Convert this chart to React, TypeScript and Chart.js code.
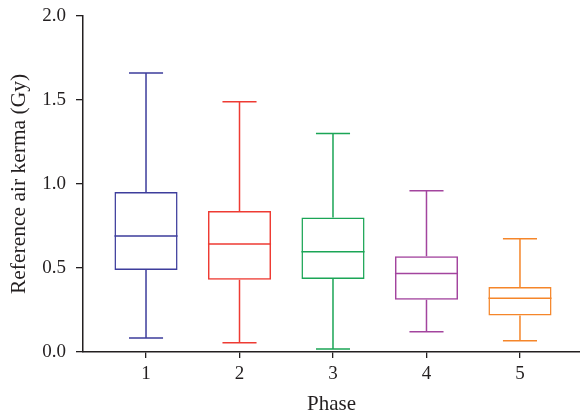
import React, { useEffect, useRef } from "react";
import { Chart, registerables } from "chart.js";

Chart.register(...registerables);

const phases = ["1", "2", "3", "4", "5"];
const whiskerLow = [0.083, 0.055, 0.018, 0.121, 0.067];
const q1 = [0.488, 0.43, 0.434, 0.311, 0.218];
const medians = [0.69, 0.643, 0.597, 0.468, 0.32];
const q3 = [0.952, 0.84, 0.8, 0.57, 0.387];
const whiskerHigh = [1.66, 1.49, 1.3, 0.96, 0.674];
const colors = ["#3d3d9c", "#ee3b33", "#1ba556", "#a3449e", "#f5862a"];
const yTicks = [0, 0.5, 1.0, 1.5, 2.0];

const FONT = "'Liberation Serif', 'Times New Roman', serif";
const INK = "#231f20";

const boxPlotPlugin = {
  id: "boxWhiskers",
  afterDatasetsDraw(chart: any) {
    const meta = chart.getDatasetMeta(0);
    const y = chart.scales.y;
    const ctx = chart.ctx;
    ctx.save();
    ctx.lineWidth = 1.5;
    meta.data.forEach((bar: any, i: number) => {
      const cx = bar.x;
      const half = bar.width / 2;
      const cap = half * 0.54;
      const px = (v: number) => y.getPixelForValue(v);
      ctx.strokeStyle = colors[i];
      ctx.beginPath();
      ctx.moveTo(cx, px(q3[i]));
      ctx.lineTo(cx, px(whiskerHigh[i]));
      ctx.moveTo(cx - cap, px(whiskerHigh[i]));
      ctx.lineTo(cx + cap, px(whiskerHigh[i]));
      ctx.moveTo(cx, px(q1[i]));
      ctx.lineTo(cx, px(whiskerLow[i]));
      ctx.moveTo(cx - cap, px(whiskerLow[i]));
      ctx.lineTo(cx + cap, px(whiskerLow[i]));
      ctx.moveTo(cx - half, px(medians[i]));
      ctx.lineTo(cx + half, px(medians[i]));
      ctx.stroke();
    });
    ctx.restore();
  },
};

export default function App() {
  const ref = useRef<HTMLCanvasElement | null>(null);
  useEffect(() => {
    document.body.style.margin = "0";
    if (!ref.current) return;
    const chart = new Chart(ref.current, {
      type: "bar",
      data: {
        datasets: [
          {
            data: phases.map((_, i) => ({ x: i + 1, y: [q1[i], q3[i]] })) as any,
            backgroundColor: "rgba(0,0,0,0)",
            borderColor: colors,
            borderWidth: 1.5,
            borderSkipped: false,
            barPercentage: 0.675,
            categoryPercentage: 1,
          },
        ],
      },
      options: {
        animation: false,
        responsive: true,
        maintainAspectRatio: false,
        layout: { padding: { top: 16, right: 0, bottom: 0, left: 0 } },
        plugins: { legend: { display: false }, tooltip: { enabled: false } },
        scales: {
          x: {
            type: "linear",
            offset: false,
            min: 0.326,
            max: 5.642,
            afterBuildTicks: (scale: any) => {
              scale.ticks = phases.map((_, i) => ({ value: i + 1 }));
            },
            afterFit: (scale: any) => {
              scale.height = 65;
              scale.paddingLeft = 0;
              scale.paddingRight = 0;
            },
            ticks: {
              callback: (v: any) => phases[Number(v) - 1] ?? "",
              color: INK,
              font: { family: FONT, size: 19 },
              padding: 5,
              maxRotation: 0,
              autoSkip: false,
            },
            grid: {
              offset: false,
              drawOnChartArea: false,
              drawTicks: true,
              tickLength: 6,
              color: INK,
              lineWidth: 1.3,
            },
            border: { display: true, color: INK, width: 1.5 },
            title: {
              display: true,
              text: "Phase",
              color: INK,
              font: { family: FONT, size: 21 },
              padding: { top: 0, bottom: 0 },
            },
          },
          y: {
            type: "linear",
            min: 0,
            max: 2,
            afterBuildTicks: (scale: any) => {
              scale.ticks = yTicks.map((v) => ({ value: v }));
            },
            afterFit: (scale: any) => {
              scale.width = 83;
              scale.paddingTop = 0;
              scale.paddingBottom = 0;
            },
            ticks: {
              callback: (v: any) => Number(v).toFixed(1),
              color: INK,
              font: { family: FONT, size: 19 },
              padding: 10,
            },
            grid: {
              drawOnChartArea: false,
              drawTicks: true,
              tickLength: 7,
              color: INK,
              lineWidth: 1.3,
            },
            border: { display: true, color: INK, width: 1.5 },
            title: {
              display: true,
              text: "Reference air kerma (Gy)",
              color: INK,
              font: { family: FONT, size: 21.5 },
              padding: { top: 6, bottom: 0 },
            },
          },
        },
      },
      plugins: [boxPlotPlugin],
    });
    return () => chart.destroy();
  }, []);
  return (
    <div style={{ position: "relative", width: 580, height: 417 }}>
      <canvas ref={ref} />
    </div>
  );
}
